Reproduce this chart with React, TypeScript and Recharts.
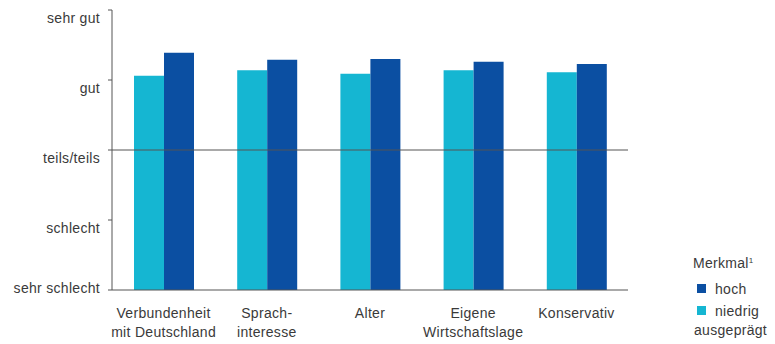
import { BarChart, Bar, XAxis, YAxis, ReferenceLine } from "recharts";

// rating scale 1..5, tick labels bottom to top
const ratingTicks = [1, 2, 3, 4, 5];
const ratingLabels = ["sehr schlecht", "schlecht", "teils/teils", "gut", "sehr gut"];

const categories = [
  "Verbundenheit\nmit Deutschland",
  "Sprach-\ninteresse",
  "Alter",
  "Eigene\nWirtschaftslage",
  "Konservativ",
];

// mean ratings, low vs. high expression of the trait
const niedrig = [4.06, 4.14, 4.09, 4.14, 4.11];
const hoch = [4.39, 4.29, 4.3, 4.26, 4.23];

const data = categories.map((name, i) => ({ name, niedrig: niedrig[i], hoch: hoch[i] }));

const LIGHT = "#15b6d2";
const DARK = "#0b4fa2";
const TEXT = "#3a3a3a";
const AXIS = "#555";
const FONT = '"Liberation Sans", Arial, sans-serif';
const SPACING = 0.3;

function RatingTick({ x, y, payload }: any) {
  const shift = payload.value === 1 ? -2 : 8;
  return (
    <text
      x={x}
      y={y + shift}
      dy="0.35em"
      textAnchor="end"
      fill={TEXT}
      fontSize={14}
      fontFamily={FONT}
      letterSpacing={SPACING}
    >
      {ratingLabels[payload.value - 1]}
    </text>
  );
}

function CategoryTick({ x, y, payload }: any) {
  const lines = String(payload.value).split("\n");
  return (
    <text
      x={x}
      y={y + 28}
      textAnchor="middle"
      fill={TEXT}
      fontSize={14}
      fontFamily={FONT}
      letterSpacing={SPACING}
    >
      {lines.map((line, i) => (
        <tspan key={i} x={x} dy={i === 0 ? 0 : 19}>
          {line}
        </tspan>
      ))}
    </text>
  );
}

export default function App() {
  return (
    <div style={{ position: "absolute", left: 0, top: 0, width: 775, height: 344, background: "#fff" }}>
      <BarChart
        width={775}
        height={344}
        data={data}
        margin={{ top: 10, right: 147, bottom: 0, left: 0 }}
        barGap={0}
        barSize={30}
      >
        <XAxis
          dataKey="name"
          height={54}
          tickLine={false}
          tickSize={0}
          tickMargin={0}
          stroke={AXIS}
          tick={<CategoryTick />}
          interval={0}
        />
        <YAxis
          type="number"
          domain={[1, 5]}
          ticks={ratingTicks}
          width={112}
          tickSize={4}
          tickMargin={8}
          stroke={AXIS}
          tick={<RatingTick />}
        />
        <Bar dataKey="niedrig" fill={LIGHT} isAnimationActive={false} />
        <Bar dataKey="hoch" fill={DARK} isAnimationActive={false} />
        <ReferenceLine y={3} stroke={AXIS} strokeWidth={1} />
      </BarChart>
      <svg
        width={775}
        height={344}
        style={{ position: "absolute", left: 0, top: 0, pointerEvents: "none" }}
        fontFamily={FONT}
        fontSize={14}
        fill={TEXT}
        letterSpacing={SPACING}
      >
        <text x={693} y={268}>
          Merkmal<tspan fontSize={8} dy={-5}>1</tspan>
        </text>
        <rect x={697} y={284} width={9} height={9} fill={DARK} />
        <text x={715} y={294}>hoch</text>
        <rect x={697} y={306} width={9} height={9} fill={LIGHT} />
        <text x={715} y={316}>niedrig</text>
        <text x={694} y={335}>ausgeprägt</text>
      </svg>
    </div>
  );
}
